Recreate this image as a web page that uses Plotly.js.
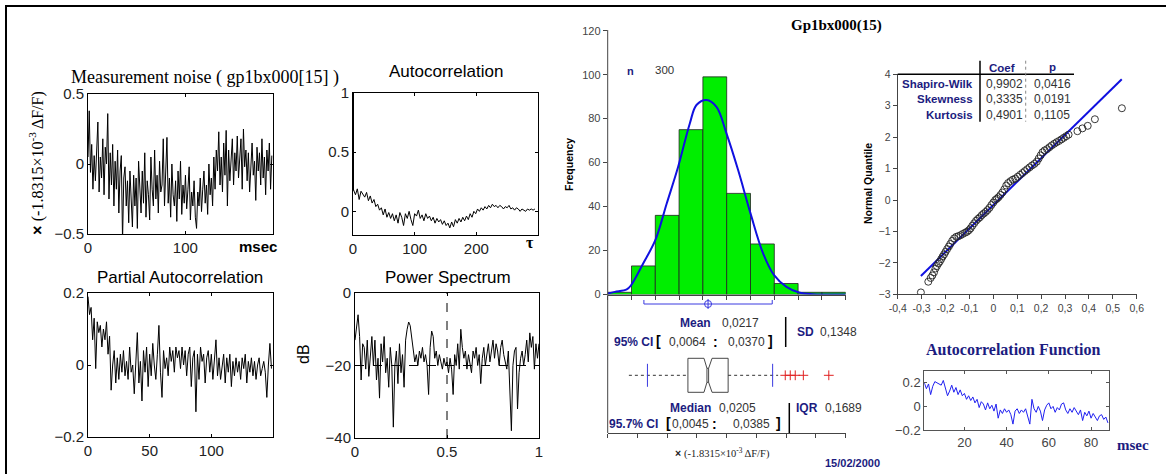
<!DOCTYPE html>
<html><head><meta charset="utf-8">
<script src="https://cdn.plot.ly/plotly-3.0.1.min.js"></script>
<style>html,body{margin:0;padding:0;background:#fff}#chart{width:1166px;height:474px}</style>
</head><body><div id="chart"></div>
<script>
// ---------------- DATA ----------------
const noiseStepMs = 1.267;
const noiseValues = [0.05,0.38,-0.06,0.14,-0.18,0.06,-0.12,0.10,0.30,-0.20,
 0.05,-0.10,0.18,-0.22,0.12,0.00,0.36,-0.25,0.08,-0.15,
 0.14,-0.30,0.02,-0.18,0.10,-0.35,-0.05,0.06,-0.55,-0.10,
 -0.02,-0.30,-0.12,-0.42,-0.05,-0.25,-0.45,-0.08,-0.30,-0.10,
 -0.46,0.02,-0.20,-0.35,-0.05,-0.28,0.08,-0.38,-0.12,-0.22,
 -0.40,0.05,-0.18,-0.30,0.10,-0.25,-0.08,-0.35,0.02,-0.20,
 -0.15,0.18,-0.30,-0.05,0.19,-0.28,-0.10,-0.38,0.00,-0.22,
 -0.30,-0.12,-0.41,-0.05,-0.25,0.02,-0.36,-0.15,-0.28,-0.08,
 -0.32,-0.18,-0.02,-0.40,-0.20,-0.30,-0.12,-0.38,-0.46,-0.20,
 -0.30,-0.10,-0.34,-0.18,-0.05,-0.28,-0.15,-0.36,0.00,-0.22,
 -0.10,-0.30,0.05,-0.18,0.10,-0.05,0.23,-0.15,0.05,-0.20,
 0.15,-0.08,0.24,-0.30,0.10,-0.12,0.02,0.18,-0.15,0.08,
 -0.05,0.20,-0.10,0.05,0.18,-0.18,0.25,-0.02,0.10,-0.12,
 0.08,-0.20,0.05,0.15,-0.08,0.02,-0.26,0.12,-0.05,0.08,
 -0.15,0.18,-0.10,0.05,-0.22,0.10,-0.05,0.15,-0.18,0.06];

const acfLag0 = 1.0;
const acfLagStep = 3;
const acfValues = [
 0.18,0.14,0.19,0.10,0.17,0.15,0.12,0.16,0.09,0.13,
 0.07,0.10,0.04,0.06,0.01,0.03,-0.03,0.02,-0.05,-0.01,
 -0.06,-0.02,-0.08,-0.03,-0.10,-0.01,-0.05,-0.12,-0.02,-0.06,
 0.00,-0.07,-0.12,-0.02,-0.04,0.01,-0.06,-0.03,-0.08,-0.02,
 -0.06,-0.04,-0.08,-0.05,-0.10,-0.06,-0.09,-0.07,-0.11,-0.08,
 -0.12,-0.10,-0.14,-0.09,-0.13,-0.07,-0.10,-0.06,-0.09,-0.05,
 -0.08,-0.04,-0.07,-0.02,-0.05,0.00,-0.02,0.02,0.00,0.03,
 0.01,0.04,0.02,0.05,0.03,0.06,0.04,0.05,0.03,0.05,
 0.04,0.02,0.04,0.03,0.05,0.02,0.03,0.01,0.03,0.02,
 0.00,0.02,0.01,0.00,0.02,0.01,0.02,0.01,0.02];

const pacfLagStep = 1.25;
const pacfValues = [0.19,0.14,0.16,0.07,0.13,-0.01,0.12,0.09,0.11,0.05,0.10,0.07,0.12,0.03,0.08,
 -0.07,0.00,0.04,-0.05,0.02,-0.04,0.03,-0.02,0.04,-0.03,0.01,-0.04,0.05,-0.02,0.00,
 -0.08,0.03,0.09,-0.05,0.01,-0.10,0.04,-0.02,0.05,-0.06,0.03,-0.03,0.06,0.00,-0.04,
 0.03,0.11,-0.02,-0.09,0.04,-0.01,0.02,-0.03,0.05,0.01,0.04,-0.02,0.05,0.02,0.04,
 -0.01,0.05,0.00,0.04,-0.03,0.03,0.05,-0.06,0.02,0.04,-0.13,0.03,-0.04,0.05,0.01,
 0.03,-0.05,0.02,0.04,-0.02,0.03,-0.04,0.01,0.07,-0.03,0.02,-0.04,0.00,0.03,-0.05,
 0.02,-0.02,0.03,-0.06,0.01,-0.03,0.02,-0.02,0.01,-0.04,0.02,-0.01,0.03,-0.05,0.01,
 -0.02,0.02,-0.03,0.01,-0.04,0.00,0.02,-0.03,-0.01,0.01,-0.02,-0.09,0.00,0.06,-0.01];

const psdFreqStep = 1/120;
const psdValues = [-13,-9,-6,-12,-24,-14,-15,-21,-13,-23,-16,-12,-20,
 -13,-24,-18,-29,-14,-19,-12,-22,-18,-26,-15,-20,
 -37,-20,-16,-25,-14,-22,
 -17,-26,-13,-10,-8,-9,-12,-16,-19,-17,
 -20,-16,-18,-15,-19,-17,-20,-28,-15,-10.5,
 -12,-18,-16,-20,-17,-19,-21,-18,-20,-19,
 -22,-18,-21,-28,-17,-20,-14,-21,-10,-15,
 -18,-16,-21,-17,-19,-22,-16,-18,-15,-20,
 -17,-25,-18,-15,-20,-17,-14,-19,-16,-13,
 -18,-14,-16,-20,-15,-13,-17,-19,-21,-16,
 -30,-38,-20,-16,-15,-32,-22,-18,-16,-20,
 -17,-13,-19,-11,-15,-12,-21,-14,-18,-14];

const histBinStarts = [-0.4,-0.3,-0.2,-0.1,0.0,0.1,0.2,0.3,0.4,0.5];
const histBinWidth = 0.1;
const histCounts = [1,13,36,75,99,46,23,5,1,1];
const normCurveX = [-0.4,-0.37,-0.32,-0.302,-0.251,-0.2,-0.152,-0.104,-0.055,-0.027,0.015,0.057,0.099,0.148,0.2,0.253,0.299,0.351,0.407,0.463,0.6];
const normCurveY = [0.5,1.2,2.3,4.2,14.1,24.7,41.4,58.1,77.8,86.2,88.5,85.4,73.3,56.6,36.9,18.7,8.8,3.5,0.8,0.15,0];
const histYTicks = [0,20,40,60,80,100,120];

const nObs = 300;
const meanVal = 0.0217, sdVal = 0.1348, meanCI = [0.0064, 0.0370];
const medianVal = 0.0205, iqrVal = 0.1689, medianCI = [0.0045, 0.0385];
const quartiles = [-0.063, 0.106];
const adjacentVals = [-0.311, 0.316];
const whiskerMarks = [-0.233, 0.293];
const outlierVals = [0.346, 0.367, 0.388, 0.422, 0.529];

const qqX = [-0.303,-0.272,-0.262,-0.255,-0.248,-0.242,-0.236,-0.230,-0.224,-0.218,-0.212,-0.206,-0.200,-0.193,-0.186,-0.180,-0.172,-0.164,-0.155,-0.146,-0.137,-0.128,-0.118,-0.110,-0.102,-0.095,-0.088,-0.080,-0.072,-0.064,-0.056,-0.048,-0.040,-0.032,-0.024,-0.016,-0.008,0.000,0.008,0.015,0.022,0.030,0.038,0.046,0.054,0.062,0.072,0.082,0.092,0.102,0.112,0.122,0.132,0.142,0.152,0.162,0.172,0.182,0.190,0.198,0.206,0.215,0.225,0.235,0.245,0.255,0.265,0.275,0.285,0.295,0.305,0.315,0.352,0.373,0.395,0.425,0.538];
const qqY = [-2.94,-2.60,-2.48,-2.40,-2.30,-2.18,-2.10,-2.02,-1.96,-1.88,-1.80,-1.73,-1.65,-1.56,-1.48,-1.40,-1.30,-1.22,-1.17,-1.15,-1.12,-1.08,-1.04,-1.01,-0.96,-0.90,-0.82,-0.74,-0.66,-0.60,-0.55,-0.48,-0.43,-0.38,-0.32,-0.25,-0.16,-0.08,0.00,0.04,0.09,0.16,0.24,0.34,0.46,0.54,0.60,0.65,0.68,0.74,0.80,0.86,0.92,0.98,1.04,1.10,1.15,1.22,1.32,1.42,1.52,1.58,1.62,1.68,1.74,1.79,1.84,1.88,1.93,1.98,2.03,2.08,2.19,2.28,2.36,2.57,2.92];
const qqLineX = [-0.303, 0.5375];
const qqLineY = [-2.42, 3.84];
const qqXTicks = [-0.4,-0.3,-0.2,-0.1,0,0.1,0.2,0.3,0.4,0.5,0.6];
const qqXTickText = ['-0,4','-0,3','-0,2','-0,1','0','0,1','0,2','0,3','0,4','0,5','0,6'];
const qqYTicks = [-3,-2,-1,0,1,2,3,4];
const testNames = ['Shapiro-Wilk','Skewness','Kurtosis'];
const testCoef = ['0,9902','0,3335','0,4901'];
const testP = ['0,0416','0,0191','0,1105'];

const acfFnValues = [0.20,0.15,0.19,0.10,0.17,0.21,0.20,0.19,0.18,0.22,
 0.15,0.09,0.13,0.18,0.12,0.16,0.10,0.14,0.09,0.11,
 0.06,0.09,0.05,0.08,0.03,0.06,-0.01,0.04,0.02,-0.03,
 0.03,-0.02,0.01,-0.04,0.02,-0.10,-0.03,-0.06,-0.02,-0.05,
 -0.03,-0.07,-0.15,-0.04,-0.02,-0.06,-0.03,-0.05,-0.02,-0.08,
 -0.15,0.06,-0.02,-0.05,0.00,-0.04,-0.12,-0.03,0.01,0.03,
 -0.02,0.00,-0.05,-0.01,-0.03,0.02,0.03,-0.03,-0.06,-0.02,
 -0.05,-0.01,-0.04,-0.07,-0.03,-0.12,-0.05,-0.08,-0.04,-0.10,
 -0.06,-0.09,-0.12,-0.08,-0.07,-0.11,-0.09,-0.14];

// ---------------- LAYOUT HELPERS ----------------
const W = 1166, H = 474;
const PX = p => p / W;
const PY = p => 1 - p / H;
const SANS = 'Liberation Sans, Arial, sans-serif';
const SERIF = 'Liberation Serif, Times New Roman, serif';
const NAVY = '#1c1c80';
const GRAY = '#333';

function matAxis(d0, d1, range, tickvals, anchor, isY) {
  return {domain: isY ? [PY(d1), PY(d0)] : [PX(d0), PX(d1)], range, anchor,
    showline: true, mirror: 'ticks', linecolor: '#000', linewidth: 1,
    ticks: 'inside', ticklen: 3, tickcolor: '#000', tickvals,
    showgrid: false, zeroline: false, fixedrange: true,
    tickfont: {family: SANS, size: 15, color: '#222'}};
}

const traces = [];
const lineK = {color: '#000', width: 1};
traces.push({type: 'scatter', mode: 'lines', x0: 0, dx: noiseStepMs, y: noiseValues, line: lineK, xaxis: 'x', yaxis: 'y'});
traces.push({type: 'scatter', mode: 'lines', x: [0, 0, 1], y: [acfLag0, acfValues[0], acfValues[0]], line: {color: '#000', width: 2}, xaxis: 'x2', yaxis: 'y2'});
traces.push({type: 'scatter', mode: 'lines', x0: 1, dx: acfLagStep, y: acfValues, line: lineK, xaxis: 'x2', yaxis: 'y2'});
traces.push({type: 'scatter', mode: 'lines', x0: 0, dx: pacfLagStep, y: pacfValues, line: lineK, xaxis: 'x3', yaxis: 'y3'});
traces.push({type: 'scatter', mode: 'lines', x0: 0, dx: psdFreqStep, y: psdValues, line: lineK, xaxis: 'x4', yaxis: 'y4'});

// histogram
traces.push({type: 'bar', x: histBinStarts, y: histCounts, width: histBinWidth, offset: 0,
  marker: {color: '#00ee00', line: {color: '#222', width: 0.8}}, xaxis: 'x5', yaxis: 'y5'});
traces.push({type: 'scatter', mode: 'lines', x: normCurveX, y: normCurveY, line: {color: '#1010e0', width: 2, shape: 'spline'}, xaxis: 'x5', yaxis: 'y5'});

// box section on x6/y6 (y6 in px-like units above axis)
const boxTop = 74.7, boxBot = 40.7, boxMid = 57.7, notchD = 10, notchE = 0.0035;
const bracketY = 129, bracketEnd = 133;
const mLo = meanVal - 2 * sdVal, mHi = meanVal + 2 * sdVal;
const blue = '#3a3ae0';
traces.push({type: 'scatter', mode: 'lines', x: [mLo, mLo, mHi, mHi], y: [bracketEnd, bracketY, bracketY, bracketEnd], line: {color: blue, width: 1}, xaxis: 'x6', yaxis: 'y6'});
traces.push({type: 'scatter', mode: 'lines', x: [meanVal, meanVal], y: [bracketY - 5, bracketY + 5], line: {color: blue, width: 1}, xaxis: 'x6', yaxis: 'y6'});
traces.push({type: 'scatter', mode: 'markers', x: [meanVal], y: [bracketY], marker: {symbol: 'circle-open', size: 7, color: blue, line: {width: 1}}, xaxis: 'x6', yaxis: 'y6'});
const q1 = quartiles[0], q3 = quartiles[1], m = medianVal;
traces.push({type: 'scatter', mode: 'lines',
  x: [q1, medianCI[0], m - notchE, m + notchE, medianCI[1], q3, q3, medianCI[1], m + notchE, m - notchE, medianCI[0], q1, q1],
  y: [boxTop, boxTop, boxTop - notchD, boxTop - notchD, boxTop, boxTop, boxBot, boxBot, boxBot + notchD, boxBot + notchD, boxBot, boxBot, boxTop],
  line: {color: '#333', width: 0.9}, xaxis: 'x6', yaxis: 'y6'});
traces.push({type: 'scatter', mode: 'lines', x: [m - notchE, m - notchE, null, m + notchE, m + notchE], y: [boxTop - notchD, boxBot + notchD, null, boxTop - notchD, boxBot + notchD], line: {color: '#333', width: 0.9}, xaxis: 'x6', yaxis: 'y6'});
traces.push({type: 'scatter', mode: 'lines', x: [adjacentVals[0], q1, null, q3, adjacentVals[1]], y: [boxMid, boxMid, null, boxMid, boxMid], line: {color: '#333', width: 1, dash: 'dot'}, xaxis: 'x6', yaxis: 'y6'});
traces.push({type: 'scatter', mode: 'lines', x: [whiskerMarks[0], whiskerMarks[0], null, whiskerMarks[1], whiskerMarks[1]], y: [boxMid - 11.5, boxMid + 11.5, null, boxMid - 11.5, boxMid + 11.5], line: {color: blue, width: 1}, xaxis: 'x6', yaxis: 'y6'});
traces.push({type: 'scatter', mode: 'markers', x: outlierVals, y: outlierVals.map(() => boxMid), marker: {symbol: 'cross-thin', size: 7, line: {color: '#e02020', width: 1}}, xaxis: 'x6', yaxis: 'y6'});

// QQ
traces.push({type: 'scatter', mode: 'lines', x: qqLineX, y: qqLineY, line: {color: '#1010e0', width: 2}, xaxis: 'x7', yaxis: 'y7'});
traces.push({type: 'scatter', mode: 'markers', x: qqX, y: qqY, marker: {symbol: 'circle-open', size: 7, color: '#222', line: {width: 0.9}}, xaxis: 'x7', yaxis: 'y7'});

// ACF function
traces.push({type: 'scatter', mode: 'lines', x0: 1, dx: 1, y: acfFnValues, line: {color: '#2020f0', width: 1}, xaxis: 'x8', yaxis: 'y8'});

const layout = {
  width: W, height: H, margin: {l: 0, r: 0, t: 0, b: 0}, autosize: false,
  paper_bgcolor: '#fff', plot_bgcolor: 'rgba(0,0,0,0)', showlegend: false,
  xaxis: matAxis(88, 273, [0, 190], [0, 100], 'y', false),
  yaxis: matAxis(94, 234, [-0.5, 0.5], [-0.5, 0, 0.5], 'x', true),
  xaxis2: matAxis(353, 538, [0, 300], [0, 100, 200], 'y2', false),
  yaxis2: matAxis(93, 235, [-0.2, 1], [0, 0.5, 1], 'x2', true),
  xaxis3: matAxis(88, 273, [0, 150], [0, 50, 100], 'y3', false),
  yaxis3: matAxis(293, 437, [-0.2, 0.2], [-0.2, 0, 0.2], 'x3', true),
  xaxis4: matAxis(355, 539, [0, 1], [0, 0.5, 1], 'y4', false),
  yaxis4: matAxis(293, 438, [-40, 0], [-40, -20, 0], 'x4', true),
  xaxis5: {domain: [PX(607.7), PX(845.7)], range: [-0.4, 0.6], anchor: 'y5', showline: true, linecolor: '#444', linewidth: 1,
    ticks: 'outside', ticklen: 4, tickcolor: '#444', tickvals: histBinStarts.concat([0.6]), showticklabels: false, showgrid: false, zeroline: false, fixedrange: true},
  yaxis5: {domain: [PY(294.5), PY(30.7)], range: [0, 120], anchor: 'x5', showline: false, ticks: 'outside', ticklen: 4, tickcolor: '#444',
    tickvals: histYTicks, showgrid: false, zeroline: false, fixedrange: true, tickfont: {family: SANS, size: 11, color: '#444'}},
  xaxis6: {domain: [PX(607.7), PX(845.7)], range: [-0.4, 0.6], anchor: 'y6', showline: true, linecolor: '#444', linewidth: 1,
    ticks: 'outside', ticklen: 4, tickcolor: '#444', tickmode: 'linear', tick0: -0.4, dtick: 0.125, showticklabels: false, showgrid: false, zeroline: false, fixedrange: true},
  yaxis6: {domain: [PY(433), PY(296)], range: [0, 137], anchor: 'x6', visible: false, fixedrange: true},
  xaxis7: {domain: [PX(897.7), PX(1136.7)], range: [-0.4, 0.6], anchor: 'y7', showline: true, linecolor: '#444', linewidth: 1,
    ticks: 'outside', ticklen: 4, tickcolor: '#444', tickvals: qqXTicks, ticktext: qqXTickText, showgrid: false, zeroline: false, fixedrange: true,
    tickfont: {family: SANS, size: 10.5, color: '#444'}},
  yaxis7: {domain: [PY(294.3), PY(74.3)], range: [-3, 4], anchor: 'x7', showline: true, linecolor: '#444', linewidth: 1,
    ticks: 'outside', ticklen: 4, tickcolor: '#444', tickvals: qqYTicks, showgrid: false, zeroline: false, fixedrange: true,
    tickfont: {family: SANS, size: 10.5, color: '#444'}},
  xaxis8: {domain: [PX(924.3), PX(1109)], range: [1, 88.5], anchor: 'y8', showline: true, mirror: 'ticks', linecolor: '#555', linewidth: 1,
    ticks: 'inside', ticklen: 3, tickcolor: '#555', tickvals: [20, 40, 60, 80], showgrid: false, zeroline: false, fixedrange: true,
    tickfont: {family: SANS, size: 13, color: '#444'}},
  yaxis8: {domain: [PY(430), PY(371)], range: [-0.2, 0.3], anchor: 'x8', showline: true, mirror: 'ticks', linecolor: '#555', linewidth: 1,
    ticks: 'inside', ticklen: 3, tickcolor: '#555', tickvals: [-0.2, 0, 0.2], showgrid: false, zeroline: false, fixedrange: true,
    tickfont: {family: SANS, size: 13, color: '#444'}},
  shapes: [],
  annotations: []
};

const S = layout.shapes;
function pline(x0, y0, x1, y1, color, width, dash) {
  S.push({type: 'line', xref: 'paper', yref: 'paper', x0: PX(x0), y0: PY(y0), x1: PX(x1), y1: PY(y1), line: {color, width, dash: dash || 'solid'}});
}
// page frame
pline(6, 6, 6, 474, '#000', 2);
pline(5, 6, 1166, 6, '#000', 2);
// power spectrum reference lines
S.push({type: 'line', xref: 'x4', yref: 'y4', x0: 0, x1: 1, y0: -20, y1: -20, line: {color: '#000', width: 1, dash: 'dash'}});
S.push({type: 'line', xref: 'x4', yref: 'y4', x0: 0.5, x1: 0.5, y0: -40, y1: 0, line: {color: '#000', width: 1, dash: 'dash'}});
// histogram vertical axis line (through the box section)
pline(607.7, 30, 607.7, 433, '#444', 1);
// stat separators
pline(785.7, 317, 785.7, 347, '#000', 1.5);
pline(789.3, 403, 789.3, 433, '#000', 1.5);
// table lines
pline(897.7, 74.3, 1074, 74.3, '#000', 1.5);
pline(980, 60.7, 980, 121.7, '#000', 1.5);
pline(1025.7, 60.7, 1025.7, 121.7, '#888', 1, 'dot');

const A = layout.annotations;
function ann(text, x, y, o) {
  o = o || {};
  A.push({text, xref: 'paper', yref: 'paper', x: PX(x), y: PY(y), xanchor: o.xa || 'center', yanchor: 'middle', showarrow: false,
    textangle: o.angle || 0, font: {family: o.family || SANS, size: o.size || 12, color: o.color || '#000'}});
}
// left panels
ann('Measurement noise ( gp1bx000[15] )', 205, 77, {family: SERIF, size: 18});
ann('Autocorrelation', 446, 71, {size: 17});
ann('Partial Autocorrelation', 180, 277, {size: 17});
ann('Power Spectrum', 448, 277, {size: 17});
ann('<b>×</b> <span style="font-family:Liberation Serif">(-1.8315×10<sup>-3</sup> ΔF/F)</span>', 36, 163, {angle: -90, size: 16});
ann('<b>msec</b>', 258, 247, {size: 15});
ann('<b>τ</b>', 530, 242, {family: SERIF, size: 16});
ann('dB', 303, 354, {angle: -90, size: 16});
// middle panel
ann('<b>Gp1bx000(15)</b>', 836, 25, {family: SERIF, size: 15});
ann('<b>n</b>', 630.5, 71, {size: 11, color: NAVY});
ann(String(nObs), 664, 70, {size: 11.5, color: GRAY});
ann('<b>Frequency</b>', 569, 165, {angle: -90, size: 10.5});
const fmt = v => v.toFixed(4).replace('.', ',');
ann('<b>Mean</b>', 695, 323, {size: 12, color: NAVY});
ann(fmt(meanVal), 740, 323, {size: 12, color: GRAY});
ann('<b>95% CI</b>', 633, 342, {size: 12, color: NAVY});
ann('<b>[</b>', 658, 341, {size: 14});
ann(fmt(meanCI[0]), 687, 342, {size: 12, color: GRAY});
ann('<b>:</b>', 715, 342, {size: 14});
ann(fmt(meanCI[1]), 746, 342, {size: 12, color: GRAY});
ann('<b>]</b>', 770, 341, {size: 14});
ann('<b>SD</b>', 805, 332, {size: 12, color: NAVY});
ann(fmt(sdVal), 838, 332, {size: 12, color: GRAY});
ann('<b>Median</b>', 691, 408, {size: 12, color: NAVY});
ann(fmt(medianVal), 737, 408, {size: 12, color: GRAY});
ann('<b>95.7% CI</b>', 633, 424, {size: 12, color: NAVY});
ann('<b>[</b>', 668, 423, {size: 14});
ann(fmt(medianCI[0]), 691, 424, {size: 12, color: GRAY});
ann('<b>:</b>', 714, 424, {size: 14});
ann(fmt(medianCI[1]), 751, 424, {size: 12, color: GRAY});
ann('<b>]</b>', 778, 423, {size: 14});
ann('<b>IQR</b>', 807, 408, {size: 12, color: NAVY});
ann(fmt(iqrVal), 843, 408, {size: 12, color: GRAY});
ann('<b>×</b> <span style="font-family:Liberation Serif">(-1.8315×10<sup>-3</sup> ΔF/F)</span>', 722, 453, {size: 10.5, color: '#222'});
ann('<b>15/02/2000</b>', 852, 463, {size: 11, color: NAVY});
// QQ panel
ann('<b>Normal Quantile</b>', 868, 184, {angle: -90, size: 10.5});
ann('<b>Coef</b>', 1002, 68, {size: 11.5, color: NAVY});
ann('<b>p</b>', 1052, 67, {size: 11.5, color: NAVY});
const rowY = [83.5, 99.3, 115];
testNames.forEach((t, i) => {
  ann('<b>' + t + '</b>', 975, rowY[i], {xa: 'right', size: 11.5, color: NAVY});
  ann(testCoef[i], 1004, rowY[i], {size: 12, color: GRAY});
  ann(testP[i], 1052, rowY[i], {size: 12, color: GRAY});
});
ann('<b>Autocorrelation Function</b>', 1013, 349, {family: SERIF, size: 16, color: NAVY});
ann('<b>msec</b>', 1133, 445, {family: SERIF, size: 15, color: NAVY});

Plotly.newPlot('chart', traces, layout, {displayModeBar: false, staticPlot: true});
</script>
</body></html>
